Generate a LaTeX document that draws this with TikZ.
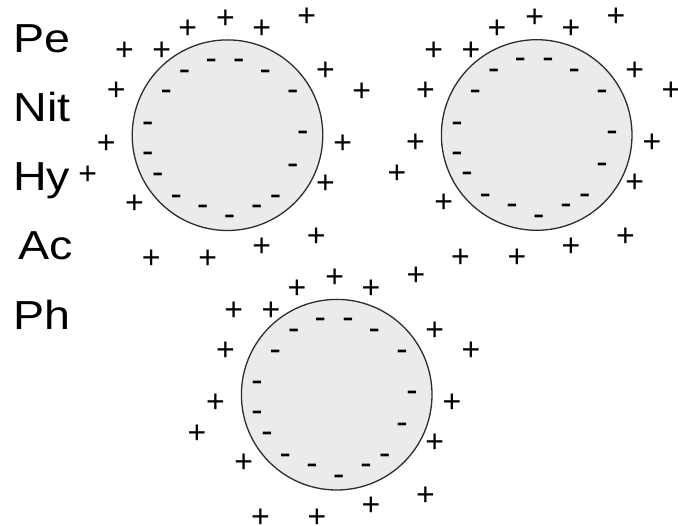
\documentclass[tikz,border=0pt]{standalone}
\usepackage{fontspec}
\setmainfont{Liberation Sans}
\definecolor{cellfill}{RGB}{235,235,235}
\definecolor{cellline}{RGB}{45,45,45}
\newcommand{\lbltext}[1]{\scalebox{1.15}[1]{#1}}
\newcommand{\plustext}{\makebox[15pt]{\raisebox{-11.3pt}{+}}}
\newcommand{\minustext}{\makebox[8.5pt]{\raisebox{-9pt}{-}}}
\begin{document}
\begin{tikzpicture}[x=1pt,y=-1pt,
  lbl/.style={font=\fontsize{40.5}{40.5}\selectfont, anchor=base west, inner sep=0pt, text=black},
  cellbody/.style={circle, draw=cellline, fill=cellfill, line width=1.3pt, minimum size=190.6pt, inner sep=0pt},
  pls/.style={font=\fontsize{32}{32}\selectfont, anchor=center, inner sep=0pt, text height=7.5pt, text depth=7.5pt},
  mns/.style={font=\fontsize{34}{34}\selectfont, anchor=center, inner sep=0pt, text height=1.6pt, text depth=1.6pt}]
\useasboundingbox (0,0) rectangle (678,526);
\node[lbl] (l1) at (13.7,52.3) {\lbltext{Pe}};
\node[lbl] (l2) at (13.2,122) {\lbltext{Nit}};
\node[lbl] (l3) at (13.0,190.5) {\lbltext{Hy}};
\node[lbl] (l4) at (18.3,259.5) {\lbltext{Ac}};
\node[lbl] (l5) at (13.7,330) {\lbltext{Ph}};
\foreach \cx/\cy/\n in {227.5/135.2/1, 536.7/135/2, 336.7/394.7/3} {
  \begin{scope}[shift={(\cx,\cy)}]
    \node[cellbody] (c\n) at (0,0) {};
    \foreach \px/\py [count=\i] in {-103/-85.7, -65.7/-85.7, -39.7/-107.7, -2/-118.3, 34.3/-107.7, 79.3/-120,
        98/-65.7, 134.3/-45.4, -111.3/-45.7, -121.3/6.7, -139.7/37.7, 115.3/6.7,
        98/46.7, -93/66.7, 88.7/100, 34.3/110, -19.7/121.7, -76.3/121.7}
      \node[pls] (p\n-\i) at (\px,\py) {\plustext};
    \foreach \px/\py [count=\i] in {-16.3/-75, 11.3/-75, -43/-64, 37.7/-64, -61.3/-43.3, 65.3/-43.3,
        -79.7/-11.7, 75.3/-2.3, -79.7/18.3, 65.3/30, -69.7/39, -51.3/61,
        48/61, -24.7/71, 29.3/71, 2/81.7}
      \node[mns] (m\n-\i) at (\px,\py) {\minustext};
  \end{scope}
}
\end{tikzpicture}
\end{document}
